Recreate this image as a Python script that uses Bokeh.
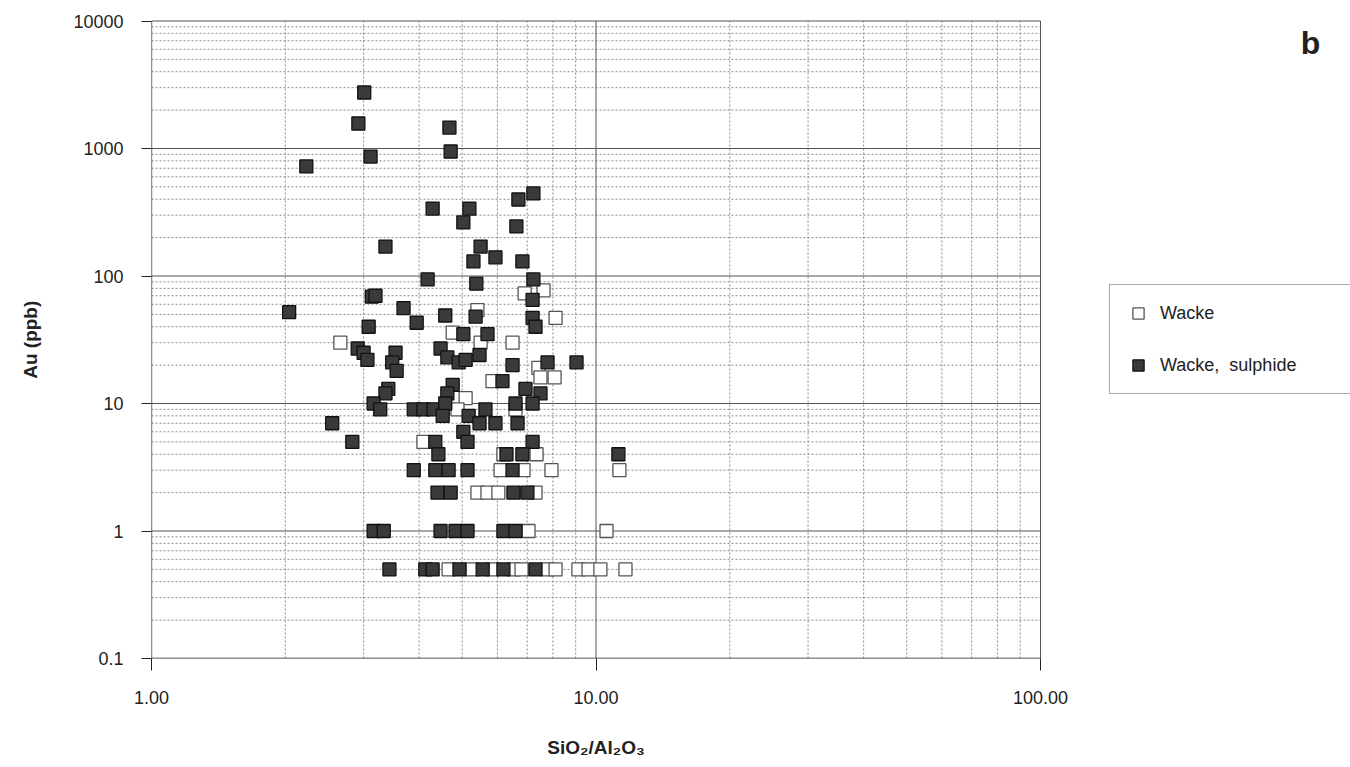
from bokeh.plotting import figure
from bokeh.models import FixedTicker, Legend, LegendItem, Label, Range1d, LogAxis
from bokeh.embed import file_html
from bokeh.resources import INLINE

# ---- data ----
wacke_x = [2.66, 6.91, 7.62, 5.41, 4.76, 5.50, 6.49, 8.11, 7.42, 5.85,
           7.50, 8.07, 5.09, 4.88, 6.59, 4.09, 6.19, 7.35, 6.10, 6.87,
           7.94, 11.29, 5.41, 5.70, 6.03, 7.31, 7.05, 10.56, 4.66, 5.27,
           5.85, 6.52, 6.80, 7.78, 8.11, 9.13, 9.62, 10.23, 11.65]
wacke_y = [30, 73, 77, 54, 36, 30, 30, 47, 19, 15,
           16, 16, 11, 9, 9, 5, 4, 4, 3, 3,
           3, 3, 2, 2, 2, 2, 1, 1, 0.5, 0.5,
           0.5, 0.5, 0.5, 0.5, 0.5, 0.5, 0.5, 0.5, 0.5]

sulph_x = [3.01, 2.92, 3.11, 2.23, 4.68, 4.71, 7.23, 6.69, 4.29, 5.19,
           5.03, 6.62, 3.36, 5.50, 5.94, 5.30, 6.83, 4.18, 5.38, 7.23,
           3.13, 3.19, 7.20, 2.04, 3.69, 4.58, 5.36, 7.20, 7.31, 3.08,
           3.95, 5.03, 5.70, 2.91, 3.00, 3.06, 3.54, 3.48, 3.56, 4.47,
           4.63, 4.91, 5.09, 5.47, 6.49, 7.78, 9.04, 6.16, 6.94, 7.50,
           6.59, 7.20, 4.76, 4.63, 3.41, 3.36, 3.16, 3.27, 3.89, 4.09,
           4.31, 4.58, 4.52, 5.17, 5.64, 5.47, 5.94, 6.66, 2.55, 2.83,
           4.35, 4.42, 5.03, 5.14, 7.20, 6.29, 6.83, 11.23, 3.89, 4.35,
           4.66, 5.14, 6.49, 4.40, 4.71, 6.52, 7.01, 3.16, 3.33, 4.47,
           4.83, 5.14, 6.19, 6.59, 3.43, 4.13, 4.29, 4.93, 5.56, 6.19,
           7.31]
sulph_y = [2750, 1570, 865, 723, 1460, 947, 444, 398, 338, 338,
           263, 245, 170, 170, 140, 130, 130, 94, 87, 94,
           69, 70, 65, 52, 56, 49, 48, 47, 40, 40,
           43, 35, 35, 27, 25, 22, 25, 21, 18, 27,
           23, 21, 22, 24, 20, 21, 21, 15, 13, 12,
           10, 10, 14, 12, 13, 12, 10, 9, 9, 9,
           9, 10, 8, 8, 9, 7, 7, 7, 7, 5,
           5, 4, 6, 5, 5, 4, 4, 4, 3, 3,
           3, 3, 3, 2, 2, 2, 2, 1, 1, 1,
           1, 1, 1, 1, 0.5, 0.5, 0.5, 0.5, 0.5, 0.5,
           0.5]

x_ticks = [1, 10, 100]
x_tick_labels = ["1.00", "10.00", "100.00"]
x_minor = [2, 3, 4, 5, 6, 7, 8, 9, 20, 30, 40, 50, 60, 70, 80, 90]
y_ticks = [0.1, 1, 10, 100, 1000, 10000]
y_tick_labels = ["0.1", "1", "10", "100", "1000", "10000"]
y_minor = [m * d for d in (0.1, 1, 10, 100, 1000) for m in (2, 3, 4, 5, 6, 7, 8, 9)]

x_title = "SiO\u2082/Al\u2082O\u2083"
y_title = "Au (ppb)"
panel_letter = "b"

FONT = "Liberation Sans"
INK = "#222222"

# ---- layout: the plotting frame covers the whole area right of the y axis,
# so the legend and panel letter (outside the gridded box) are not clipped.
W, H = 1350, 767
LEFT, BOTTOM = 151, 109           # canvas px of the frame's left / bottom border
BOX_RIGHT, BOX_TOP = 1040, 20.5   # canvas px where x=100 and y=10000 fall
x_lo, x_hi = x_ticks[0], x_ticks[-1]
y_lo, y_hi = y_ticks[0], y_ticks[-1]
x_dec = 2.0  # decades across the gridded box
y_dec = 5.0
frame_w = W - LEFT
frame_h = H - BOTTOM
x_max = x_lo * 10 ** (x_dec * frame_w / (BOX_RIGHT - LEFT))
y_max = y_lo * 10 ** (y_dec * frame_h / (frame_h - BOX_TOP))

p = figure(width=W, height=H, x_axis_type="log", y_axis_type="log",
           x_range=Range1d(x_lo, x_max), y_range=Range1d(y_lo, y_max),
           output_backend="svg", toolbar_location=None,
           min_border_left=LEFT, min_border_right=0,
           min_border_top=0, min_border_bottom=BOTTOM)
p.outline_line_color = None
p.background_fill_color = "white"
p.border_fill_color = "white"
p.xgrid.visible = False
p.ygrid.visible = False

for ax, ticks, labels in ((p.xaxis, x_ticks, x_tick_labels),
                          (p.yaxis, y_ticks, y_tick_labels)):
    ax.ticker = FixedTicker(ticks=ticks, minor_ticks=[])
    ax.major_label_overrides = dict(zip(ticks, labels))
    ax.major_tick_in = 0
    ax.minor_tick_in = 0
    ax.minor_tick_out = 0
    ax.axis_line_color = None
    ax.major_tick_line_color = INK
    ax.major_label_text_font = FONT
    ax.major_label_text_font_size = "18px"
    ax.major_label_text_color = INK

p.xaxis.major_tick_out = 12
p.yaxis.major_tick_out = 10
p.xaxis.major_label_standoff = 20
p.yaxis.major_label_standoff = 18

# axis titles as extra axes, each with a single labelled tick at the box centre
x_mid = 10 ** ((len(x_ticks) - 1) / 2)          # centre of 1..100 on a log axis
y_mid = y_lo * 10 ** (y_dec / 2)                 # centre of 0.1..10000 on a log axis
for side, mid, text, orient, standoff in (("below", x_mid, x_title, "horizontal", 30),
                                          ("left", y_mid, y_title, "vertical", 30)):
    t_ax = LogAxis(ticker=FixedTicker(ticks=[mid], minor_ticks=[]),
                   major_label_overrides={mid: text},
                   major_label_orientation=orient,
                   axis_line_color=None, major_tick_line_color=None,
                   minor_tick_line_color=None, major_tick_out=0, major_tick_in=0,
                   major_label_standoff=standoff,
                   major_label_text_font=FONT, major_label_text_font_style="bold",
                   major_label_text_font_size="19px", major_label_text_color=INK)
    p.add_layout(t_ax, side)

# ---- grid drawn only inside the gridded box ----
minor_style = dict(line_color="#8a8a8a", line_width=1, line_dash="2 2")
major_style = dict(line_color="#555555", line_width=1)
p.segment(x0=x_minor, y0=[y_lo] * len(x_minor), x1=x_minor, y1=[y_hi] * len(x_minor),
          **minor_style)
p.segment(x0=[x_lo] * len(y_minor), y0=y_minor, x1=[x_hi] * len(y_minor), y1=y_minor,
          **minor_style)
p.segment(x0=x_ticks[1:], y0=[y_lo] * (len(x_ticks) - 1), x1=x_ticks[1:],
          y1=[y_hi] * (len(x_ticks) - 1), **major_style)
p.segment(x0=[x_lo] * (len(y_ticks) - 1), y0=y_ticks[1:], x1=[x_hi] * (len(y_ticks) - 1),
          y1=y_ticks[1:], **major_style)
# axis lines (left and bottom of the box)
p.segment(x0=[x_lo, x_lo], y0=[y_lo, y_lo], x1=[x_lo, x_hi], y1=[y_hi, y_lo],
          line_color=INK, line_width=1.3)

r_w = p.scatter(wacke_x, wacke_y, marker="square", size=13,
                fill_color="white", line_color="#555555", line_width=1.3)
r_s = p.scatter(sulph_x, sulph_y, marker="square", size=13,
                fill_color="#3a3a3a", line_color="#111111", line_width=1.3)

legend = Legend(items=[LegendItem(label="Wacke", renderers=[r_w]),
                       LegendItem(label="Wacke,  sulphide", renderers=[r_s])],
                location=(1109 - LEFT, frame_h - 394))
legend.border_line_color = "#555555"
legend.border_line_width = 1
legend.background_fill_color = "white"
legend.background_fill_alpha = 1
legend.label_text_font = FONT
legend.label_text_font_size = "18px"
legend.label_text_color = INK
legend.glyph_width = 28
legend.glyph_height = 28
legend.label_height = 28
legend.spacing = 24
legend.padding = 14
legend.label_standoff = 8
legend.label_width = 200
legend.margin = 0
p.add_layout(legend)

p.add_layout(Label(x=1310 - LEFT, y=frame_h - 42, x_units="screen", y_units="screen",
                   text=panel_letter, text_font=FONT, text_font_style="bold",
                   text_font_size="32px", text_align="center", text_baseline="middle",
                   text_color=INK))

open("out.html", "w").write(file_html(p, INLINE))
